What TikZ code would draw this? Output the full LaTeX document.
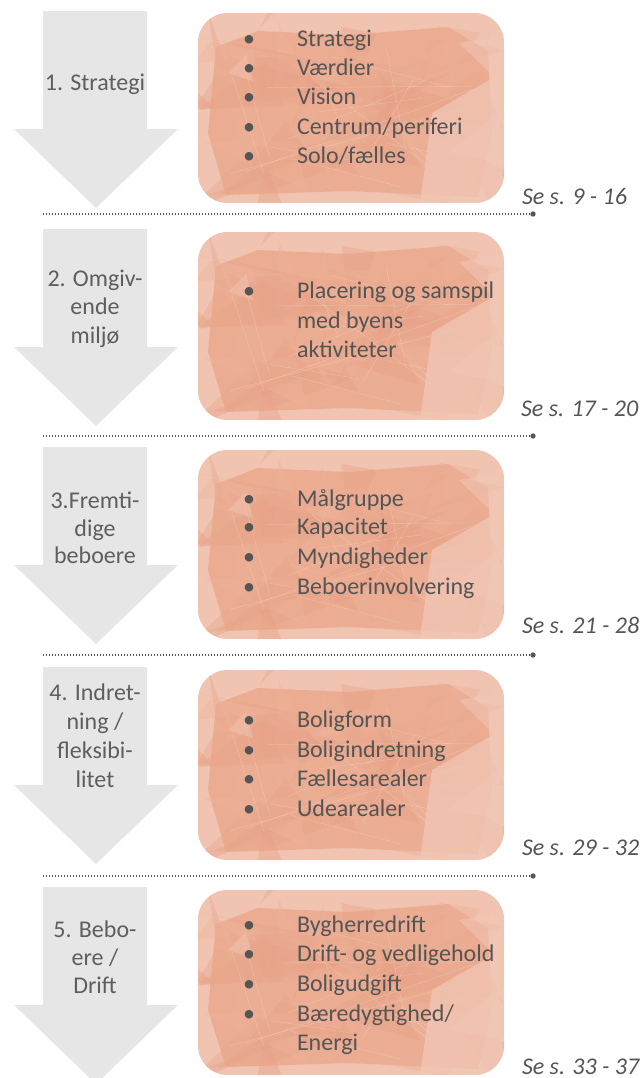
\documentclass[tikz,border=0pt]{standalone}
\usepackage{fontspec}
\setmainfont{Carlito}
\usetikzlibrary{calc}

\definecolor{arrowgray}{HTML}{E6E6E7}
\definecolor{labelgray}{HTML}{5E5E5E}
\definecolor{itemgray}{HTML}{555555}
\definecolor{dotgray}{HTML}{555555}
\definecolor{boxbase}{HTML}{F0C4B1}
\definecolor{boxcore}{HTML}{EBAC92}
\definecolor{salA}{HTML}{E8A387}
\definecolor{salB}{HTML}{EDB097}
\definecolor{salC}{HTML}{E9A88D}
\definecolor{salD}{HTML}{EEB59C}
\definecolor{salE}{HTML}{E7A085}
\definecolor{salLight}{HTML}{F1C7B6}

\pgfmathdeclarerandomlist{facetcols}{{salA}{salB}{salC}{salD}{salE}}

% Down arrow of one stage; #1 = top edge (px)
\newcommand{\stagearrow}[1]{%
  \fill[arrowgray] (43,#1) -- (147,#1) -- (147,#1+118) -- (178,#1+118)
    -- (96,#1+197) -- (14,#1+118) -- (43,#1+118) -- cycle;
}

% Rounded box with a faceted salmon texture; #1,#2 = top left, #3,#4 = bottom right
\newcommand{\facetbox}[4]{%
  \begin{scope}
    \path[clip, rounded corners=22pt] (#1,#2) rectangle (#3,#4);
    \fill[boxbase] (#1,#2) rectangle (#3,#4);
    % darker irregular core
    \fill[boxcore] (#1+18,#2+34) -- (#1+60,#2+18) -- (#1+150,#2+22) -- (#1+250,#2+14)
      -- (#1+290,#2+38) -- (#1+294,#2+120) -- (#1+280,#4-6) -- (#1+150,#4-12)
      -- (#1+28,#4-8) -- (#1+10,#2+120) -- cycle;
    \pgfmathsetseed{4711}
    \foreach \k in {1,...,70}{%
      \pgfmathsetmacro\cx{#1+30+rnd*(#3-#1-70)}
      \pgfmathsetmacro\cy{#2+25+rnd*(#4-#2-45)}
      \pgfmathsetmacro\ax{\cx+130*rnd-65}
      \pgfmathsetmacro\ay{\cy+80*rnd-40}
      \pgfmathsetmacro\bx{\cx+130*rnd-65}
      \pgfmathsetmacro\by{\cy+80*rnd-40}
      \pgfmathsetmacro\qx{\cx+130*rnd-65}
      \pgfmathsetmacro\qy{\cy+80*rnd-40}
      \pgfmathrandomitem\fc{facetcols}
      \fill[\fc, opacity=0.4] (\ax,\ay) -- (\bx,\by) -- (\qx,\qy) -- cycle;
    }
    \foreach \k in {1,...,16}{%
      \pgfmathsetmacro\ax{#1+30+rnd*(#3-#1-60)}
      \pgfmathsetmacro\ay{#2+25+rnd*(#4-#2-40)}
      \pgfmathsetmacro\bx{#1+30+rnd*(#3-#1-60)}
      \pgfmathsetmacro\by{#2+25+rnd*(#4-#2-40)}
      \draw[white, opacity=0.25, line width=0.3pt] (\ax,\ay) -- (\bx,\by);
    }
    % lighter facets towards the right edge
    \fill[salLight, opacity=0.75] (#1+234,#2+100) -- (#1+300,#2+62) -- (#3,#4)
      -- (#1+222,#4) -- cycle;
    \fill[salLight, opacity=0.55] (#1+250,#2+140) -- (#3,#2+95) -- (#3,#2+150) -- cycle;
    \fill[salLight, opacity=0.55] (#3-45,#2+30) -- (#3,#2+22) -- (#3-4,#2+70) -- cycle;
    \fill[salLight, opacity=0.45] (#1+30,#2+60) -- (#1+48,#2+42) -- (#1+55,#2+68) -- cycle;
  \end{scope}
}

\begin{document}
\begin{tikzpicture}[x=0.75pt, y=-0.75pt,
  every node/.style={inner sep=0pt, outer sep=0pt},
  stagelabel/.style={font=\fontsize{18}{22}\selectfont, text=labelgray, anchor=base},
  item/.style={font=\fontsize{18}{22}\selectfont, text=itemgray, anchor=base west},
  bulletmark/.style={font=\fontsize{18}{22}\selectfont, text=itemgray, anchor=base},
  pageref/.style={font=\fontsize{18}{22}\selectfont\itshape, text=itemgray, anchor=base west},
  dotline/.style={draw=dotgray, line width=1.1pt, dash pattern=on 0.9pt off 1.35pt},
  enddot/.style={circle, fill=dotgray, minimum size=4pt}]

\useasboundingbox (0,0) rectangle (642,1078);

% ---------- 1. Strategi ----------
\stagearrow{11}
\node[stagelabel] (s1) at (95,90) {1. Strategi};
\facetbox{198}{13}{504}{203}
\foreach \y/\t [count=\n] in {38/Strategi, 67/Værdier, 96/Vision, 126/Centrum\slash periferi, 155/Solo\slash fælles}{
  \node[bulletmark] (b1-\n) at (249,\y+8) {•};
  \node[item] (i1-\n) at (297,\y+8) {\t};
}
\node[pageref] (p1) at (522,204) {Se s. 9 - 16};
\coordinate (l1) at (43,214);
\node[enddot] (d1) at (533,214) {};
\draw[dotline] (l1) -- (d1.center);

% ---------- 2. Omgivende miljø ----------
\stagearrow{229}
\node[stagelabel] (s2a) at (95,286) {2. Omgiv-};
\node[stagelabel] (s2b) at (95,314) {ende};
\node[stagelabel] (s2c) at (95,343) {miljø};
\facetbox{198}{232}{504}{420}
\node[bulletmark] (b2-1) at (249,298) {•};
\node[item] (i2-1) at (297,298) {Placering og samspil};
\node[item] (i2-2) at (297,328) {med byens};
\node[item] (i2-3) at (297,357) {aktiviteter};
\node[pageref] (p2) at (521,416) {Se s. 17 - 20};
\coordinate (l2) at (43,436);
\node[enddot] (d2) at (533,436) {};
\draw[dotline] (l2) -- (d2.center);

% ---------- 3. Fremtidige beboere ----------
\stagearrow{447}
\node[stagelabel] (s3a) at (95,508) {3.Fremti-};
\node[stagelabel] (s3b) at (95,536) {dige};
\node[stagelabel] (s3c) at (95,563) {beboere};
\facetbox{198}{450}{504}{639}
\foreach \y/\t [count=\n] in {498/Målgruppe, 526/Kapacitet, 556/Myndigheder, 586/Beboerinvolvering}{
  \node[bulletmark] (b3-\n) at (249,\y+8) {•};
  \node[item] (i3-\n) at (297,\y+8) {\t};
}
\node[pageref] (p3) at (522,633) {Se s. 21 - 28};
\coordinate (l3) at (43,655);
\node[enddot] (d3) at (533,655) {};
\draw[dotline] (l3) -- (d3.center);

% ---------- 4. Indretning / fleksibilitet ----------
\stagearrow{667}
\node[stagelabel] (s4a) at (95,700) {4. Indret-};
\node[stagelabel] (s4b) at (95,729) {ning /};
\node[stagelabel] (s4c) at (95,758) {fleksibi-};
\node[stagelabel] (s4d) at (95,787) {litet};
\facetbox{198}{670}{504}{860}
\foreach \y/\t [count=\n] in {719/Boligform, 749/Boligindretning, 778/Fællesarealer, 808/Udearealer}{
  \node[bulletmark] (b4-\n) at (249,\y+8) {•};
  \node[item] (i4-\n) at (297,\y+8) {\t};
}
\node[pageref] (p4) at (522,855) {Se s. 29 - 32};
\coordinate (l4) at (43,876);
\node[enddot] (d4) at (533,876) {};
\draw[dotline] (l4) -- (d4.center);

% ---------- 5. Beboere / Drift ----------
\stagearrow{887}
\node[stagelabel] (s5a) at (95,937) {5. Bebo-};
\node[stagelabel] (s5b) at (95,965) {ere /};
\node[stagelabel] (s5c) at (95,993) {Drift};
\facetbox{198}{890}{504}{1075}
\foreach \y/\t [count=\n] in {924/Bygherredrift, 953/Drift- og vedligehold, 983/Boligudgift, 1013/Bæredygtighed\slash}{
  \node[bulletmark] (b5-\n) at (249,\y+8) {•};
  \node[item] (i5-\n) at (297,\y+8) {\t};
}
\node[item] (i5-5) at (297,1050) {Energi};
\node[pageref] (p5) at (522,1074) {Se s. 33 - 37};

\end{tikzpicture}
\end{document}
